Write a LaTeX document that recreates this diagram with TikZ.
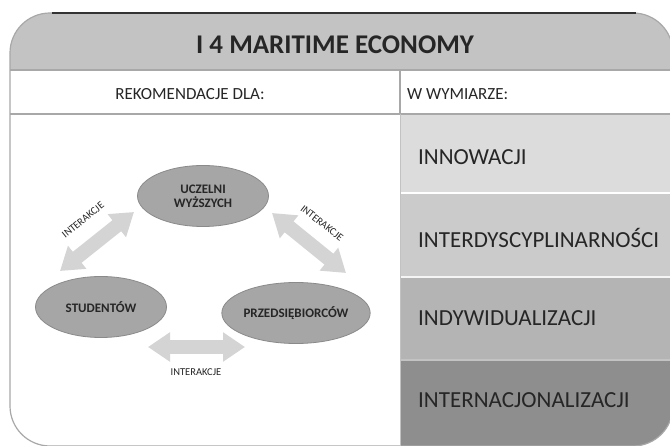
\documentclass[tikz,border=0pt]{standalone}
\usepackage{fontspec}
\setmainfont{Carlito}
\usetikzlibrary{arrows.meta,shapes.geometric}
\definecolor{hdr}{HTML}{C3C3C3}
\definecolor{rowa}{HTML}{DCDCDC}
\definecolor{rowb}{HTML}{CBCBCB}
\definecolor{rowc}{HTML}{B4B4B4}
\definecolor{rowd}{HTML}{8E8E8E}
\definecolor{ellfill}{HTML}{A6A6A6}
\definecolor{ellline}{HTML}{8A8A8A}
\definecolor{arrowc}{HTML}{D4D4D4}
\definecolor{frame}{HTML}{A8A8A8}
\definecolor{txt}{HTML}{262626}
\tikzset{
  ell/.style={ellipse, fill=ellfill, draw=ellline, line width=0.8pt,
    minimum width=131pt, minimum height=61pt, inner sep=0pt,
    font=\fontsize{13}{14}\selectfont\bfseries, text=txt, align=center},
  biarrow/.style={draw=arrowc, line width=14pt,
    {Triangle[width=28pt,length=22pt]}-{Triangle[width=28pt,length=22pt]}},
  ilabel/.style={font=\fontsize{10.5}{11}\selectfont, text=txt, inner sep=0pt},
  rowtext/.style={anchor=west, font=\fontsize{23}{25}\selectfont, text=txt, inner sep=0pt},
  headtext/.style={font=\fontsize{17}{19}\selectfont, text=txt, inner sep=0pt},
  sepline/.style={draw=frame, line width=1.2pt}
}
\begin{document}
\begin{tikzpicture}[x=1pt,y=-1pt]
\useasboundingbox (0,0) rectangle (670,446);
\fill[white] (0,0) rectangle (670,446);
\begin{scope}
  \clip[rounded corners=40pt] (10,13) rectangle (673,446);
  \fill[hdr] (0,0) rectangle (680,70);
  \fill[rowa] (400,114) rectangle (680,193);
  \fill[rowb] (400,193) rectangle (680,277);
  \fill[rowc] (400,277) rectangle (680,360);
  \fill[rowd] (400,360) rectangle (680,450);
  \draw[white, line width=1.5pt] (400,193) -- (680,193);
  \draw[white!80!rowb, line width=1.5pt] (400,277) -- (680,277);
  \draw[rowc!80!white, line width=1.5pt] (400,360) -- (680,360);
\end{scope}
\draw[frame, line width=1.2pt, rounded corners=40pt] (10,13) rectangle (673,446);
\draw[black!80, line width=1.2pt] (52,13) -- (636,13);
\draw[sepline] (10,70) -- (673,70);
\draw[sepline] (10,114) -- (673,114);
\draw[sepline] (400,70) -- (400,114);
\draw[frame!70!white, line width=1pt] (400,114) -- (400,446);

\node[font=\fontsize{27}{29}\selectfont\bfseries, text=txt, inner sep=0pt] (title) at (335,45) {I 4 MARITIME ECONOMY};
\node[headtext] (rek) at (190,94) {REKOMENDACJE DLA:};
\node[headtext, anchor=west] (wym) at (407,94) {W WYMIARZE:};

\node[rowtext] (r1) at (418,157) {INNOWACJI};
\node[rowtext] (r2) at (418,238) {INTERDYSCYPLINARNOŚCI};
\node[rowtext] (r3) at (418,318) {INDYWIDUALIZACJI};
\node[rowtext] (r4) at (418,400) {INTERNACJONALIZACJI};

\node[ell] (u) at (203,196) {UCZELNI\\WYŻSZYCH};
\node[ell] (s) at (101,307) {STUDENTÓW};
\node[ell] (p) at (296,313) {PRZEDSIĘBIORCÓW};

\coordinate (a1s) at (60,271);
\coordinate (a1e) at (134,212);
\coordinate (a2s) at (272,213);
\coordinate (a2e) at (346,273);
\coordinate (a3s) at (148,347);
\coordinate (a3e) at (245,347);
\draw[biarrow] (a1s) -- (a1e);
\draw[biarrow] (a2s) -- (a2e);
\draw[biarrow] (a3s) -- (a3e);

\node[ilabel, rotate=39] (l1) at (83,220) {INTERAKCJE};
\node[ilabel, rotate=-38] (l2) at (322,223) {INTERAKCJE};
\node[ilabel] (l3) at (196,372) {INTERAKCJE};
\end{tikzpicture}
\end{document}
